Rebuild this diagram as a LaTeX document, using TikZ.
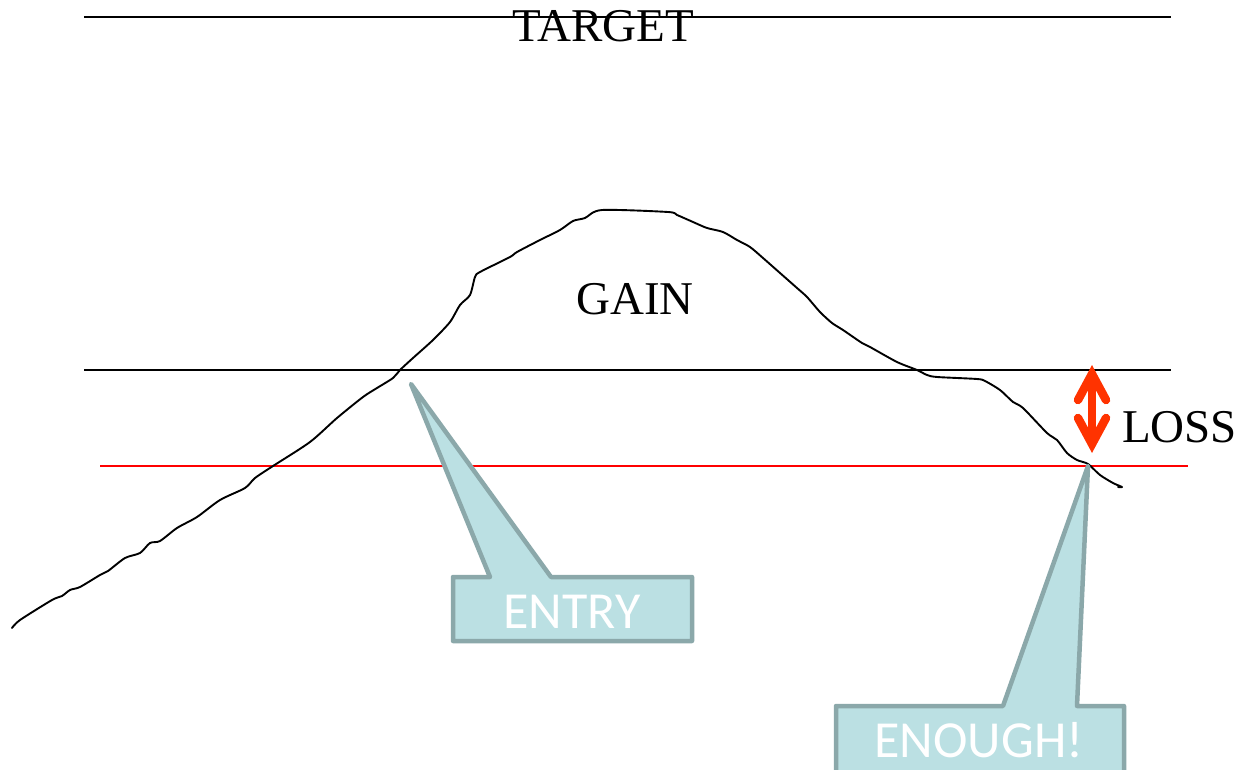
\documentclass[tikz,border=0pt]{standalone}
\usepackage{fontspec}
\setmainfont{Liberation Serif}
\newfontfamily\calloutfont{Carlito}
\definecolor{lossred}{HTML}{FF3300}
\definecolor{calloutfill}{HTML}{BBE0E3}
\definecolor{calloutedge}{HTML}{8BA8AA}
\tikzset{
  level/.style={line width=1.8pt, black},
  stopline/.style={line width=2pt, red},
  price/.style={line width=1.9pt, black, line join=round, line cap=round},
  label/.style={inner sep=0pt, font=\fontsize{47}{47}\selectfont},
  callout/.style={fill=calloutfill, draw=calloutedge, line width=4.5pt, line join=round},
  callouttext/.style={inner sep=0pt, text=white, font=\calloutfont\fontsize{52}{52}\selectfont},
  lossarrow/.style={lossred, line width=8.5pt, line cap=round, line join=miter}
}
\begin{document}
\begin{tikzpicture}[x=1pt, y=-1pt]
\useasboundingbox[fill=white] (0,0) rectangle (1243,770);

% horizontal levels
\coordinate (targetL) at (84,17);   \coordinate (targetR) at (1171,17);
\coordinate (entryL)  at (84,370);  \coordinate (entryR)  at (1171,370);
\coordinate (stopL)   at (100,466); \coordinate (stopR)   at (1188,466);
\draw[level] (targetL) -- (targetR);
\draw[level] (entryL) -- (entryR);
\draw[stopline] (stopL) -- (stopR);

% price curve
\draw[price] plot[smooth, tension=0.45] coordinates {
  (12,628) (20,620) (52,600) (62,596) (70,590) (80,587) (100,575) (108,571)
  (125,558) (140,553) (150,543) (160,541) (177,528) (197,517) (220,500)
  (245,488) (255,478) (273,466) (310,442) (337,418) (363,397) (377,388)
  (393,378) (400,370) (413,358) (433,340) (450,322) (460,305) (470,295)
  (475,277) (480,272) (510,257) (517,252) (540,240) (560,230) (573,221)
  (585,218) (602,210) (668,212) (677,215) (693,222) (707,228) (723,232)
  (737,240) (750,247) (763,258) (780,273) (797,288) (807,297) (820,312)
  (832,323) (843,330) (862,343) (870,347) (897,362) (917,370) (927,375)
  (937,377) (977,379) (985,381) (1000,390) (1013,402) (1023,408)
  (1047,433) (1057,440) (1067,453) (1077,460) (1088,464) (1100,475)
  (1113,483) (1122,487) (1118,487)};

% labels
\node[label, anchor=base] (target) at (603,42) {TARGET};
\node[label, anchor=base] (gain) at (635,315) {GAIN};
\node[label, anchor=base west] (loss) at (1122,442) {LOSS};

% loss marker
\coordinate (lossTop) at (1092,374);
\coordinate (lossBot) at (1092,444);
\draw[lossarrow] (lossTop) -- (lossBot);
\draw[lossarrow] (1078,400) -- (lossTop) -- (1106,400);
\draw[lossarrow] (1078,418) -- (lossBot) -- (1106,418);

% entry callout
\coordinate (entryTip) at (411,384);
\draw[callout] (453,577) -- (490,577) -- (entryTip) -- (551,577) -- (692,577)
  -- (692,641) -- (453,641) -- cycle;
\node[callouttext, anchor=base] (entry) at (572,628) {ENTRY};

% exit callout
\coordinate (exitTip) at (1088,466);
\draw[callout] (836,706) -- (1003,706) -- (exitTip) -- (1077,706) -- (1124,706)
  -- (1124,790) -- (836,790) -- cycle;
\node[callouttext, anchor=base] (enough) at (979,757) {ENOUGH!};
\end{tikzpicture}
\end{document}
